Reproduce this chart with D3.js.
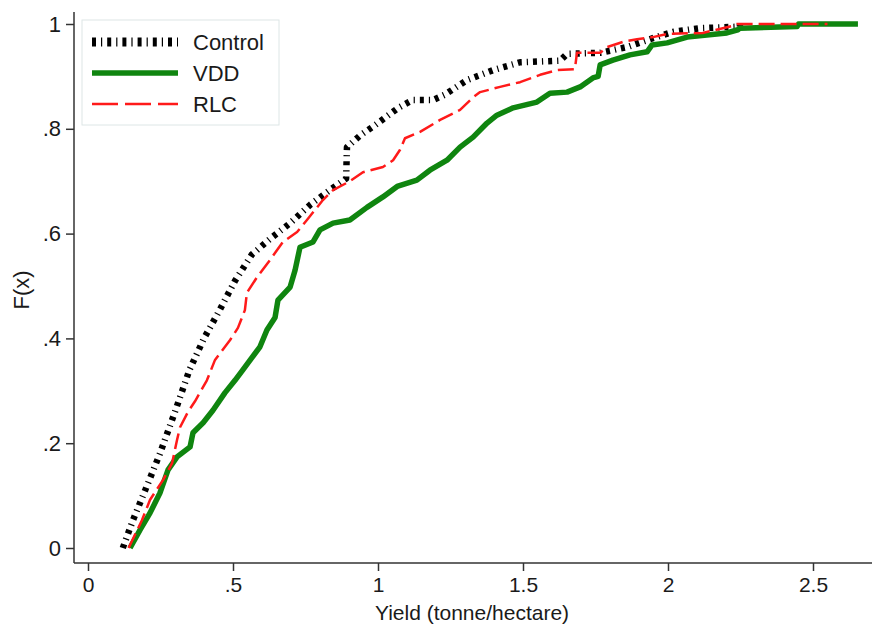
<!DOCTYPE html>
<html>
<head>
<meta charset="utf-8">
<script src="https://cdn.jsdelivr.net/npm/d3@7"></script>
<style>
  body { margin: 0; background: #fff; }
  svg text { font-family: "Liberation Sans", Arial, sans-serif; fill: #1a1a1a; }
</style>
</head>
<body>
<svg width="872" height="626"></svg>
<script>
var controlYield = [0.12, 0.155, 0.197, 0.248, 0.30, 0.35, 0.40, 0.455, 0.507, 0.565, 0.628, 0.697, 0.766, 0.834, 0.89, 0.893, 0.94, 0.99, 1.07, 1.12, 1.19, 1.23, 1.307, 1.397, 1.49, 1.628, 1.652, 1.766, 1.859, 1.948, 2.017, 2.11, 2.248, 2.248];
var controlF     = [0, 0.053, 0.11, 0.18, 0.26, 0.34, 0.40, 0.455, 0.51, 0.56, 0.59, 0.62, 0.655, 0.683, 0.705, 0.765, 0.788, 0.807, 0.84, 0.855, 0.855, 0.865, 0.893, 0.912, 0.927, 0.93, 0.943, 0.945, 0.956, 0.973, 0.985, 0.992, 0.995, 1.0];

var vddYield = [0.145, 0.179, 0.214, 0.248, 0.276, 0.307, 0.352, 0.362, 0.397, 0.431, 0.472, 0.507, 0.534, 0.593, 0.617, 0.645, 0.655, 0.697, 0.714, 0.731, 0.776, 0.80, 0.845, 0.903, 0.962, 1.017, 1.066, 1.134, 1.179, 1.238, 1.283, 1.328, 1.376, 1.41, 1.466, 1.548, 1.593, 1.652, 1.697, 1.741, 1.759, 1.766, 1.81, 1.869, 1.928, 1.945, 1.997, 2.066, 2.134, 2.203, 2.241, 2.248, 2.445, 2.45, 2.655];
var vddF     = [0, 0.034, 0.067, 0.105, 0.149, 0.174, 0.193, 0.22, 0.239, 0.263, 0.296, 0.32, 0.34, 0.384, 0.416, 0.44, 0.473, 0.498, 0.53, 0.574, 0.584, 0.607, 0.62, 0.626, 0.65, 0.67, 0.69, 0.702, 0.721, 0.74, 0.765, 0.784, 0.811, 0.826, 0.84, 0.851, 0.868, 0.87, 0.88, 0.897, 0.90, 0.922, 0.931, 0.941, 0.947, 0.96, 0.964, 0.975, 0.979, 0.983, 0.989, 0.992, 0.995, 1.0, 1.0];

var rlcYield = [0.14, 0.186, 0.214, 0.259, 0.29, 0.307, 0.317, 0.345, 0.369, 0.41, 0.438, 0.49, 0.517, 0.541, 0.548, 0.583, 0.628, 0.672, 0.721, 0.755, 0.81, 0.845, 0.903, 0.948, 1.017, 1.052, 1.076, 1.093, 1.145, 1.214, 1.283, 1.328, 1.352, 1.421, 1.49, 1.559, 1.617, 1.679, 1.686, 1.766, 1.79, 1.845, 1.893, 1.948, 1.997, 2.12, 2.221, 2.238, 2.55];
var rlcF     = [0, 0.053, 0.092, 0.13, 0.162, 0.206, 0.23, 0.26, 0.28, 0.32, 0.359, 0.397, 0.42, 0.454, 0.487, 0.517, 0.55, 0.584, 0.603, 0.626, 0.664, 0.683, 0.70, 0.717, 0.727, 0.74, 0.76, 0.782, 0.794, 0.817, 0.836, 0.86, 0.87, 0.88, 0.889, 0.903, 0.912, 0.914, 0.945, 0.945, 0.956, 0.966, 0.971, 0.975, 0.981, 0.983, 0.996, 1.0, 1.0];

var xTicks = [0, 0.5, 1, 1.5, 2, 2.5];
var yTicks = [0, 0.2, 0.4, 0.6, 0.8, 1];
var seriesNames = ["Control", "VDD", "RLC"];

var svg = d3.select("svg");

var x = d3.scaleLinear().domain([0, 2.5]).range([88, 813]);
var y = d3.scaleLinear().domain([0, 1]).range([548, 24]);

var fmt = function(d) {
  return d === 0 ? "0" : String(d).replace(/^0\./, ".");
};

// x axis
var xAxis = svg.append("g")
.attr("transform", "translate(0,563)")
.call(d3.axisBottom(x).tickValues(xTicks).tickSize(8).tickPadding(6).tickFormat(fmt));
xAxis.select(".domain").remove();
xAxis.selectAll("line").attr("stroke", "#333").attr("stroke-width", 1.5);
xAxis.selectAll("text").attr("font-size", "21px").attr("fill", "#1a1a1a");

// y axis
var yAxis = svg.append("g")
.attr("transform", "translate(74,0)")
.call(d3.axisLeft(y).tickValues(yTicks).tickSize(8).tickPadding(5).tickFormat(fmt));
yAxis.select(".domain").remove();
yAxis.selectAll("line").attr("stroke", "#333").attr("stroke-width", 1.5);
yAxis.selectAll("text").attr("font-size", "22px").attr("fill", "#1a1a1a");

// axis lines
svg.append("line")
.attr("x1", 74).attr("x2", 872)
.attr("y1", 563).attr("y2", 563)
.attr("stroke", "#333").attr("stroke-width", 1.5);

svg.append("line")
.attr("x1", 74).attr("x2", 74)
.attr("y1", 12).attr("y2", 563)
.attr("stroke", "#333").attr("stroke-width", 1.5);

// titles
svg.append("text")
.attr("x", 472).attr("y", 620)
.attr("text-anchor", "middle")
.attr("font-size", "21px")
.text("Yield (tonne/hectare)");

svg.append("text")
.attr("transform", "translate(29,290) rotate(-90)")
.attr("text-anchor", "middle")
.attr("font-size", "22px")
.text("F(x)");

var line = d3.line()
.x(function(d) { return x(d[0]); })
.y(function(d) { return y(d[1]); });

var styles = [
  { color: "#000", width: 6.5, dash: "4,5,1.2,5" },
  { color: "#0f850f", width: 5.5, dash: null },
  { color: "#ff1a1a", width: 2.5, dash: "16,6" }
];

var curves = [
  d3.zip(controlYield, controlF),
  d3.zip(vddYield, vddF),
  d3.zip(rlcYield, rlcF)
];

curves.forEach(function(pts, i) {
  svg.append("path")
  .datum(pts)
  .attr("d", line)
  .attr("fill", "none")
  .attr("stroke", styles[i].color)
  .attr("stroke-width", styles[i].width)
  .attr("stroke-dasharray", styles[i].dash)
  .attr("stroke-linejoin", "round");
});

// legend
var legend = svg.append("g");
legend.append("rect")
.attr("x", 82).attr("y", 20)
.attr("width", 197).attr("height", 105)
.attr("fill", "#fff")
.attr("stroke", "#dde6e6")
.attr("stroke-width", 1);

var keyY = [42, 73, 104];
seriesNames.forEach(function(name, i) {
  legend.append("line")
  .attr("x1", 92).attr("x2", 178)
  .attr("y1", keyY[i]).attr("y2", keyY[i])
  .attr("stroke", styles[i].color)
  .attr("stroke-width", i === 0 ? 9 : styles[i].width)
  .attr("stroke-dasharray", i === 2 ? "26,7" : styles[i].dash);

  legend.append("text")
  .attr("x", 193).attr("y", keyY[i])
  .attr("dy", "0.36em")
  .attr("font-size", "22px")
  .text(name);
});
</script>
</body>
</html>
